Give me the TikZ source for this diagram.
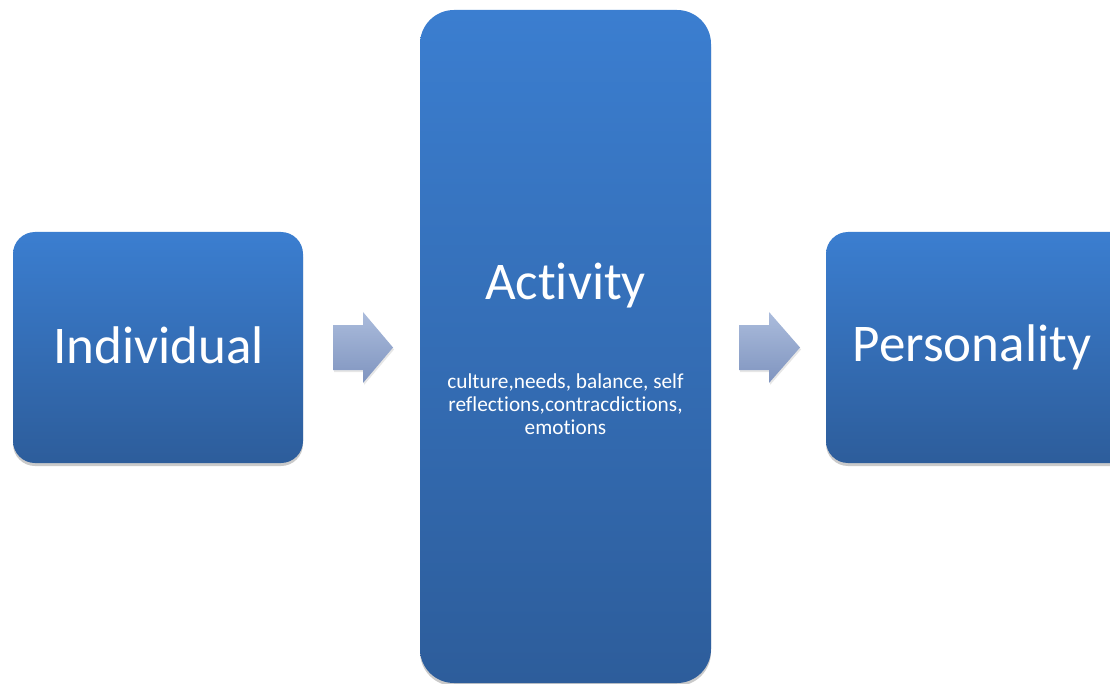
\documentclass[tikz,border=0pt]{standalone}
\usepackage{fontspec}
\setmainfont{Carlito}[Ligatures=NoCommon,RawFeature={-liga;-clig;-dlig}]
\usetikzlibrary{shadows}
\definecolor{boxtop}{HTML}{3B7ED0}
\definecolor{boxbot}{HTML}{2D5D9B}
\definecolor{arrtop}{HTML}{ABBCDC}
\definecolor{arrbot}{HTML}{7F94BF}
\tikzset{
  box/.style={rounded corners=#1, top color=boxtop, bottom color=boxbot, draw=none,
    drop shadow={shadow xshift=0pt, shadow yshift=-3pt, opacity=0.35, fill=black!60}},
  bigtxt/.style={text=white, font=\fontsize{53}{58}\selectfont},
  smalltxt/.style={text=white, font=\fontsize{21.3}{23}\selectfont, align=center},
  blockarrow/.style={top color=arrtop, bottom color=arrbot, draw=none,
    drop shadow={shadow xshift=1pt, shadow yshift=-2pt, opacity=0.2, fill=black!50}}
}
\begin{document}
\begin{tikzpicture}[x=1pt,y=-1pt]
\useasboundingbox (0,0) rectangle (1110,684);
% boxes
\path[box=22pt] (13,232) rectangle (303,463);
\path[box=34pt] (420,10) rectangle (711,683);
\path[box=22pt] (826,232) rectangle (1134,463);
% labels
\node[bigtxt] (ind) at (158.5,345) {Individual};
\node[bigtxt] (act) at (565.5,286) {Activity};
\node[smalltxt] (sub) at (565.5,404) {culture,needs, balance, self\\reflections,contracdictions,\\emotions};
\node[bigtxt] (per) at (972,347.5) {Personality};
% arrows
\path[blockarrow] (333,325) -- (363,325) -- (363,312) -- (393,347.5) -- (363,383) -- (363,370) -- (333,370) -- cycle;
\path[blockarrow] (739,325) -- (769,325) -- (769,312) -- (800,347.5) -- (769,383) -- (769,370) -- (739,370) -- cycle;
\end{tikzpicture}
\end{document}
